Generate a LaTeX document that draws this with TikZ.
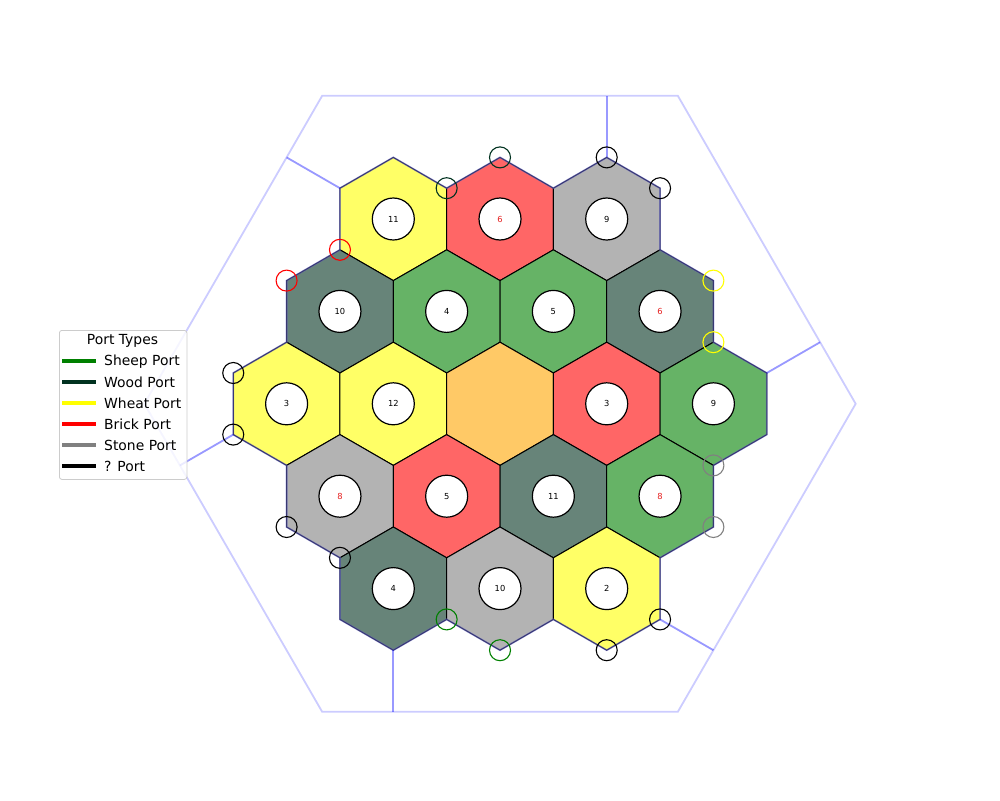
\documentclass[tikz,border=0pt]{standalone}
\usepackage{fontspec}
\setmainfont{DejaVu Sans}
\definecolor{woodc}{RGB}{1,50,32}
\definecolor{sheepc}{RGB}{0,128,0}
\definecolor{wheatc}{RGB}{255,255,0}
\definecolor{brickc}{RGB}{255,0,0}
\definecolor{stonec}{RGB}{128,128,128}
\definecolor{desertc}{RGB}{255,165,0}
\definecolor{numred}{RGB}{230,30,30}
\tikzset{
  tile/.style={fill=#1!60!white, draw=black, line width=1pt, line join=miter},
  num/.style={circle, fill=white, draw=black, line width=1.2pt, minimum size=42pt, inner sep=0pt, font=\fontsize{8.3}{10}\selectfont},
  port/.style={circle, draw=#1, line width=1.1pt, minimum size=21pt, inner sep=0pt},
  coast/.style={draw=blue!70!black!60!white, draw opacity=0.55, line width=1.8pt, line join=miter},
  spoke/.style={draw=blue, draw opacity=0.4, line width=1.8pt},
  outerhex/.style={draw=blue, draw opacity=0.2, line width=1.8pt},
  handle/.style={line width=4pt, #1},
  legtext/.style={anchor=west, inner sep=0pt, font=\fontsize{13.9}{16}\selectfont},
}
\newcommand\hextile[3]{%
  \filldraw[tile=#3] ({#1},{#2-2}) -- ({#1+1},{#2-1}) -- ({#1+1},{#2+1}) -- ({#1},{#2+2}) -- ({#1-1},{#2+1}) -- ({#1-1},{#2-1}) -- cycle;}
\begin{document}
\begin{tikzpicture}[x=1pt,y=-1pt]
\useasboundingbox (0,0) rectangle (1000,800);
\begin{scope}[shift={(500pt,-403.8pt)}, x=53.35pt, y=-30.8pt]
  % tiles
  \hextile{-2}{-6}{wheatc}
  \hextile{0}{-6}{brickc}
  \hextile{2}{-6}{stonec}
  \hextile{-3}{-3}{woodc}
  \hextile{-1}{-3}{sheepc}
  \hextile{1}{-3}{sheepc}
  \hextile{3}{-3}{woodc}
  \hextile{-4}{0}{wheatc}
  \hextile{-2}{0}{wheatc}
  \hextile{0}{0}{desertc}
  \hextile{2}{0}{brickc}
  \hextile{4}{0}{sheepc}
  \hextile{-3}{3}{stonec}
  \hextile{-1}{3}{brickc}
  \hextile{1}{3}{woodc}
  \hextile{3}{3}{sheepc}
  \hextile{-2}{6}{woodc}
  \hextile{0}{6}{stonec}
  \hextile{2}{6}{wheatc}
  % coast
  \draw[coast] (-3,-7) -- (-2,-8) -- (-1,-7) -- (0,-8) -- (1,-7) -- (2,-8) -- (3,-7) -- (3,-5) -- (4,-4) -- (4,-2) -- (5,-1) -- (5,1) -- (4,2) -- (4,4) -- (3,5) -- (3,7) -- (2,8) -- (1,7) -- (0,8) -- (-1,7) -- (-2,8) -- (-3,7) -- (-3,5) -- (-4,4) -- (-4,2) -- (-5,1) -- (-5,-1) -- (-4,-2) -- (-4,-4) -- (-3,-5) -- cycle;
  % outer hexagon
  \draw[outerhex] ({20/3},0) -- ({10/3},-10) -- ({-10/3},-10) -- ({-20/3},0) -- ({-10/3},10) -- ({10/3},10) -- cycle;
  % spokes
  \coordinate (s1a) at (2,-8);  \coordinate (s1b) at (2,-10);
  \coordinate (s2a) at (-3,-7); \coordinate (s2b) at (-4,-8);
  \coordinate (s3a) at (-5,1);  \coordinate (s3b) at (-6,2);
  \coordinate (s4a) at (-2,8);  \coordinate (s4b) at (-2,10);
  \coordinate (s5a) at (3,7);   \coordinate (s5b) at (4,8);
  \coordinate (s6a) at (5,-1);  \coordinate (s6b) at (6,-2);
  \foreach \i in {1,...,6} {\draw[spoke] (s\i a) -- (s\i b);}
  % numbers
  \node[num] (n1) at (-2,-6) {11};
  \node[num, text=numred] (n2) at (0,-6) {6};
  \node[num] (n3) at (2,-6) {9};
  \node[num] (n4) at (-3,-3) {10};
  \node[num] (n5) at (-1,-3) {4};
  \node[num] (n6) at (1,-3) {5};
  \node[num, text=numred] (n7) at (3,-3) {6};
  \node[num] (n8) at (-4,0) {3};
  \node[num] (n9) at (-2,0) {12};
  \node[num] (n10) at (2,0) {3};
  \node[num] (n11) at (4,0) {9};
  \node[num, text=numred] (n12) at (-3,3) {8};
  \node[num] (n13) at (-1,3) {5};
  \node[num] (n14) at (1,3) {11};
  \node[num, text=numred] (n15) at (3,3) {8};
  \node[num] (n16) at (-2,6) {4};
  \node[num] (n17) at (0,6) {10};
  \node[num] (n18) at (2,6) {2};
  % ports
  \node[port=woodc] (p1) at (0,-8) {};
  \node[port=woodc] (p2) at (-1,-7) {};
  \node[port=black] (p3) at (2,-8) {};
  \node[port=black] (p4) at (3,-7) {};
  \node[port=brickc] (p5) at (-3,-5) {};
  \node[port=brickc] (p6) at (-4,-4) {};
  \node[port=wheatc] (p7) at (4,-4) {};
  \node[port=wheatc] (p8) at (4,-2) {};
  \node[port=black] (p9) at (-5,-1) {};
  \node[port=black] (p10) at (-5,1) {};
  \node[port=stonec] (p11) at (4,2) {};
  \node[port=stonec] (p12) at (4,4) {};
  \node[port=black] (p13) at (-4,4) {};
  \node[port=black] (p14) at (-3,5) {};
  \node[port=sheepc] (p15) at (-1,7) {};
  \node[port=sheepc] (p16) at (0,8) {};
  \node[port=black] (p17) at (3,7) {};
  \node[port=black] (p18) at (2,8) {};
\end{scope}
% legend
\node[draw=black!20, line width=0.8pt, rounded corners=2.5pt, fill=white, fill opacity=0.8, minimum width=127.5pt, minimum height=149pt, inner sep=0pt, anchor=north west] (legend) at (59,330) {};
\node[inner sep=0pt, font=\fontsize{13.9}{16}\selectfont] (legtitle) at (122.5,341) {Port Types};
\draw[handle=sheepc] (62,361) -- (96,361);
\node[legtext] (l1) at (104,361.5) {Sheep Port};
\draw[handle=woodc] (62,382) -- (96,382);
\node[legtext] (l2) at (104,382.5) {Wood Port};
\draw[handle=wheatc] (62,403) -- (96,403);
\node[legtext] (l3) at (104,403.5) {Wheat Port};
\draw[handle=brickc] (62,424) -- (96,424);
\node[legtext] (l4) at (104,424.5) {Brick Port};
\draw[handle=stonec] (62,445) -- (96,445);
\node[legtext] (l5) at (104,445.5) {Stone Port};
\draw[handle=black] (62,466) -- (96,466);
\node[legtext] (l6) at (104,466.5) {? Port};
\end{tikzpicture}
\end{document}
